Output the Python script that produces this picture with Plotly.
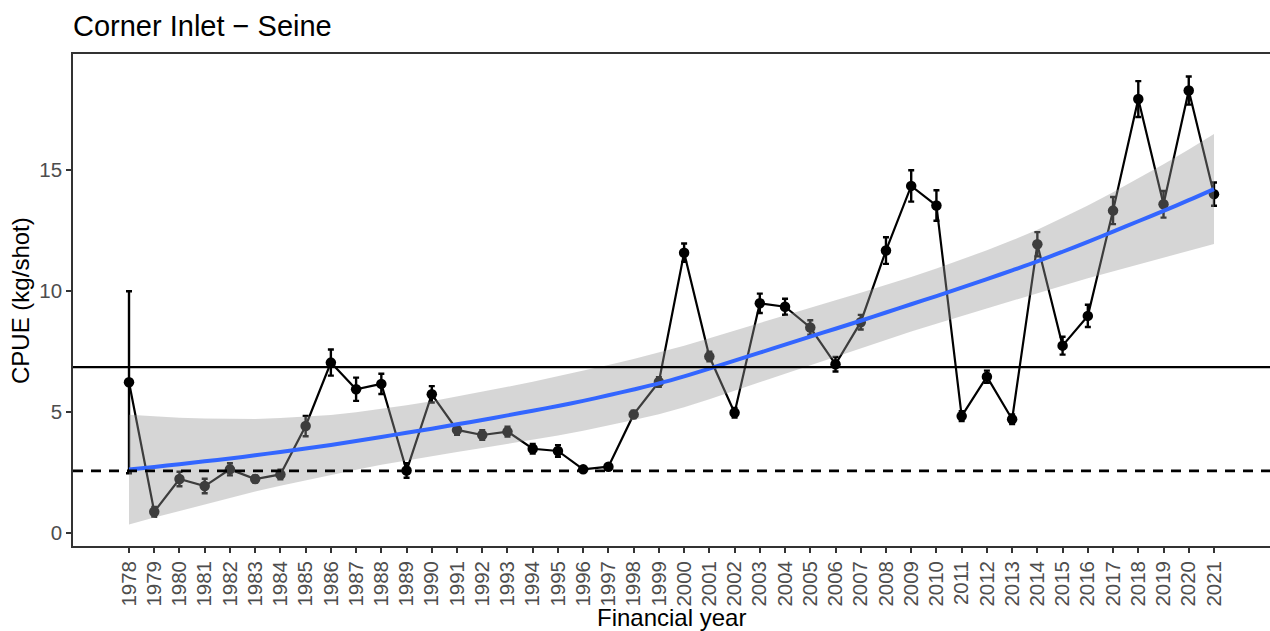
import plotly.graph_objects as go

# Financial years (x categories)
years = list(range(1978, 2022))

# Annual CPUE (kg/shot) and its error half-width
cpue = [6.23, 0.88, 2.23, 1.94, 2.63, 2.23, 2.42, 4.42, 7.04, 5.94, 6.16, 2.58,
        5.73, 4.26, 4.05, 4.19, 3.48, 3.39, 2.63, 2.74, 4.90, 6.24,
        11.58, 7.29, 4.97, 9.49, 9.35, 8.49, 6.97, 8.71, 11.67, 14.34,
        13.53, 4.83, 6.46, 4.70, 11.93, 7.74, 8.97, 13.32, 17.93, 13.58, 18.28, 14.00]
cpue_err = [3.76, 0.20, 0.30, 0.30, 0.25, 0.15, 0.20, 0.42, 0.54, 0.48, 0.42, 0.30,
            0.34, 0.20, 0.20, 0.20, 0.20, 0.24, 0.10, 0.10, 0.15, 0.20,
            0.38, 0.20, 0.20, 0.40, 0.33, 0.30, 0.30, 0.30, 0.55, 0.65,
            0.63, 0.20, 0.25, 0.20, 0.50, 0.37, 0.46, 0.56, 0.74, 0.55, 0.58, 0.48]

# Smoothed trend and its confidence half-width
trend = [2.62, 2.73, 2.84, 2.96, 3.08, 3.21, 3.35, 3.49, 3.64, 3.80, 3.97, 4.14,
         4.31, 4.49, 4.67, 4.86, 5.05, 5.25, 5.46, 5.69, 5.93, 6.18,
         6.47, 6.79, 7.12, 7.45, 7.78, 8.11, 8.44, 8.77, 9.11, 9.45,
         9.79, 10.14, 10.49, 10.85, 11.22, 11.62, 12.03, 12.45, 12.88, 13.31, 13.75, 14.21]
trend_ci = [2.27, 2.09, 1.92, 1.77, 1.63, 1.50, 1.40, 1.31, 1.24, 1.19, 1.15, 1.14,
            1.13, 1.14, 1.16, 1.18, 1.20, 1.22, 1.24, 1.25, 1.26, 1.27,
            1.27, 1.26, 1.25, 1.24, 1.22, 1.20, 1.18, 1.16, 1.14, 1.13,
            1.14, 1.15, 1.19, 1.24, 1.31, 1.40, 1.50, 1.63, 1.77, 1.92, 2.09, 2.27]

# Reference levels
target_level = 6.85
limit_level = 2.57

upper = [m + h for m, h in zip(trend, trend_ci)]
lower = [m - h for m, h in zip(trend, trend_ci)]

FONT = "Liberation Sans, Arial, sans-serif"

fig = go.Figure()

# Observed CPUE with error bars
fig.add_trace(go.Scatter(
    x=years, y=cpue, mode="lines+markers",
    line=dict(color="black", width=2.2),
    marker=dict(color="black", size=10.5),
    error_y=dict(type="data", array=cpue_err, symmetric=True,
                 color="black", thickness=2.4, width=3),
    showlegend=False, hoverinfo="skip",
))

# Confidence ribbon drawn over the observations
fig.add_trace(go.Scatter(
    x=years + years[::-1], y=upper + lower[::-1],
    mode="lines", fill="toself", fillcolor="rgba(153,153,153,0.4)",
    line=dict(width=0), showlegend=False, hoverinfo="skip",
))

# Trend line
fig.add_trace(go.Scatter(
    x=years, y=trend, mode="lines",
    line=dict(color="#3366FF", width=4, shape="spline", smoothing=0.8),
    showlegend=False, hoverinfo="skip",
))

fig.add_shape(type="line", xref="paper", x0=0, x1=1, y0=target_level, y1=target_level,
              line=dict(color="black", width=2.2), layer="above")
fig.add_shape(type="line", xref="paper", x0=0, x1=1, y0=limit_level, y1=limit_level,
              line=dict(color="black", width=2.8, dash="10px,8px"), layer="above")

axis_common = dict(
    showgrid=False, zeroline=False, showline=True, linecolor="#333333", linewidth=1.6,
    ticks="outside", ticklen=5, tickwidth=1.6, tickcolor="#333333",
    tickfont=dict(family=FONT, size=20.5, color="#4D4D4D"),
)

fig.update_xaxes(
    range=[1975.78, 2023.22], tickvals=years, ticktext=[str(y) for y in years],
    tickangle=-90, mirror=True, **axis_common,
)
fig.update_yaxes(
    range=[-0.537, 19.79], tickvals=[0, 5, 10, 15], ticktext=["0", "5", "10", "15"],
    mirror=False, **axis_common,
)

fig.add_annotation(text="Financial year", xref="paper", yref="paper", x=0.5, y=-0.146,
                   xanchor="center", yanchor="middle", showarrow=False,
                   font=dict(family=FONT, size=24, color="black"))
fig.add_annotation(text="CPUE (kg/shot)", xref="paper", yref="paper", x=-0.0443, y=0.5,
                   xanchor="center", yanchor="middle", textangle=-90, showarrow=False,
                   font=dict(family=FONT, size=24, color="black"))

fig.update_layout(
    width=1270, height=631,
    margin=dict(l=73, r=0, t=54, b=85),
    plot_bgcolor="white", paper_bgcolor="white",
    title=dict(text="Corner Inlet \u2212 Seine", x=73 / 1270, xanchor="left", xref="container",
               y=1 - 26 / 631, yanchor="middle", yref="container",
               font=dict(family=FONT, size=29, color="black")),
)

fig.write_html("out.html")
